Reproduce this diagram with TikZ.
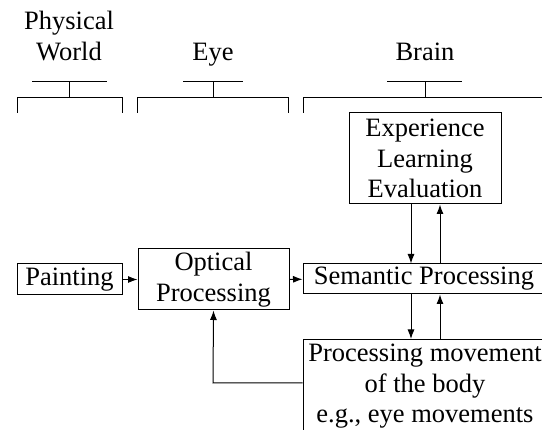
\documentclass[tikz,border=0pt]{standalone}
\usepackage{fontspec}
\setmainfont{Liberation Serif}
\usetikzlibrary{arrows.meta}
\begin{document}
\begin{tikzpicture}[x=1pt,y=-1pt,
  txt/.style={align=center, inner sep=0pt, font=\fontsize{26.5}{30.5}\selectfont},
  box/.style={txt, draw, line width=1pt},
  conn/.style={line width=1pt, -{Latex[length=9.5pt,width=7pt]}},
  brk/.style={line width=1pt}]
\useasboundingbox (0,0) rectangle (542,430);
\clip (0,0) rectangle (542,430);
% headers
\node[txt] (hpw) at (69,36) {Physical\\World};
\node[txt, anchor=base] (heye) at (213,61) {Eye};
\node[txt, anchor=base] (hbrain) at (425,61) {Brain};
% brackets
\draw[brk] (17,113) -- (17,98) -- (122,98) -- (122,113);
\draw[brk] (69,98) -- (69,82);
\draw[brk] (32,82) -- (107,82);
\draw[brk] (137,113) -- (137,98) -- (288,98) -- (288,113);
\draw[brk] (213,98) -- (213,82);
\draw[brk] (183,82) -- (243,82);
\draw[brk] (303,113) -- (303,98) -- (560,98);
\draw[brk] (425,98) -- (425,82);
\draw[brk] (387,82) -- (462,82);
% boxes
\node[box, minimum width=105pt, minimum height=31pt] (paint) at (69.5,279.5) {Painting};
\node[box, minimum width=151pt, minimum height=61pt] (opt) at (213.5,279.5) {Optical\\Processing};
\node[box, minimum width=242pt, minimum height=30pt] (sem) at (424,279) {Semantic Processing};
\node[box, minimum width=152pt, minimum height=91pt] (exp) at (425,158.5) {Experience\\Learning\\Evaluation};
\node[box, anchor=north, minimum width=244pt, inner ysep=4.5pt, minimum height=110pt] (proc) at (425,339) {Processing movement\\of the body\\e.g., eye movements\\[4pt]};
% connectors
\coordinate (xl) at (411,0);
\coordinate (xr) at (440,0);
\coordinate (fb) at (213,383);
\draw[conn] (paint) -- (opt);
\draw[conn] (opt) -- (sem);
\draw[conn] (xl |- exp.south) -- (xl |- sem.north);
\draw[conn] (xr |- sem.north) -- (xr |- exp.south);
\draw[conn] (xl |- sem.south) -- (xl |- proc.north);
\draw[conn] (xr |- proc.north) -- (xr |- sem.south);
\draw[conn] (proc.west |- fb) -- (fb) -- (opt.south);
\end{tikzpicture}
\end{document}
